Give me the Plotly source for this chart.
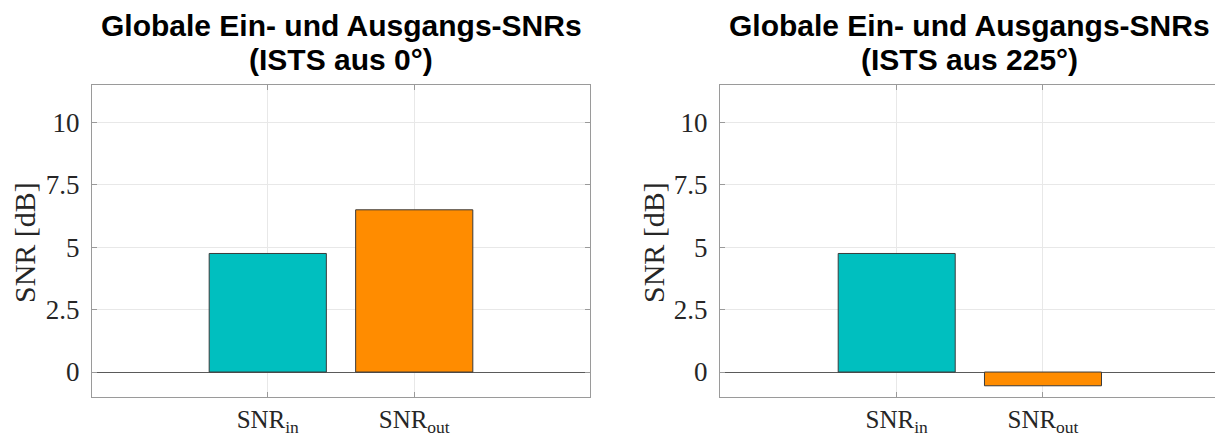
import plotly.graph_objects as go

# ---- data ----
categories = ["SNR<sub>in</sub>", "SNR<sub>out</sub>"]
snr_0deg = [4.75, 6.5]
snr_225deg = [4.75, -0.55]
bar_colors = ["#00BFBF", "#FF8C00"]
title_line1 = "Globale Ein- und Ausgangs-SNRs"
title_line2 = ["(ISTS aus 0°)", "(ISTS aus 225°)"]
ytick_vals = [0, 2.5, 5, 7.5, 10]
ytick_text = ["0", "2.5", "5", "7.5", "10"]
ylabel = "SNR [dB]"

W, H = 1215, 434
serif = "Liberation Serif, Times New Roman, serif"
sans = "Liberation Sans, Arial, sans-serif"
border = "#9a9a9a"
grid = "#e8e8e8"

fig = go.Figure()
for i, vals in enumerate([snr_0deg, snr_225deg]):
    fig.add_trace(go.Bar(
        x=categories, y=vals, width=0.8,
        marker=dict(color=bar_colors, line=dict(color="#3a3a3a", width=1)),
        xaxis="x" if i == 0 else "x2", yaxis="y" if i == 0 else "y2",
        showlegend=False, hoverinfo="skip"))

ydom = [1 - 397 / H, 1 - 85 / H]
xdoms = [[92 / W, 590 / W], [720 / W, 1.0]]
xranges = [[-1.2, 2.2], [-1.208, 2.176]]

common_x = dict(showline=True, linecolor=border, linewidth=1, mirror="ticks",
                ticks="inside", ticklen=5, tickcolor=border,
                showgrid=True, gridcolor=grid, gridwidth=1,
                tickfont=dict(family=serif, size=25, color="#262626"),
                ticklabelstandoff=0, automargin=False, fixedrange=True)
common_y = dict(showline=True, linecolor=border, linewidth=1,
                ticks="inside", ticklen=5, tickcolor=border,
                showgrid=True, gridcolor=grid, gridwidth=1,
                zeroline=True, zerolinecolor="#5a5a5a", zerolinewidth=1,
                range=[-1, 11.5], tickvals=ytick_vals, ticktext=ytick_text,
                tickfont=dict(family=serif, size=27, color="#262626"),
                ticklabelstandoff=6, domain=ydom, automargin=False, fixedrange=True)

fig.update_layout(
    width=W, height=H, margin=dict(l=0, r=0, t=0, b=0, autoexpand=False),
    paper_bgcolor="white", plot_bgcolor="white", bargap=0.2,
    xaxis=dict(domain=xdoms[0], range=xranges[0], anchor="y", **common_x),
    xaxis2=dict(domain=xdoms[1], range=xranges[1], anchor="y2", **common_x),
    yaxis=dict(anchor="x", mirror="ticks", **common_y),
    yaxis2=dict(anchor="x2", mirror=False, **common_y),
)

annotations = []
for i in range(2):
    cx = (xdoms[i][0] + xdoms[i][1]) / 2
    if i == 1:
        cx = (720 + 1219) / 2 / W
    annotations.append(dict(text="<b>%s</b>" % title_line1, x=cx, y=1 - 25 / H,
                            xref="paper", yref="paper", xanchor="center", yanchor="middle",
                            showarrow=False, font=dict(family=sans, size=30, color="black")))
    annotations.append(dict(text="<b>%s</b>" % title_line2[i], x=cx, y=1 - 59 / H,
                            xref="paper", yref="paper", xanchor="center", yanchor="middle",
                            showarrow=False, font=dict(family=sans, size=30, color="black")))
    lx = (25 if i == 0 else 654) / W
    annotations.append(dict(text=ylabel, x=lx, y=1 - 243 / H, textangle=-90,
                            xref="paper", yref="paper", xanchor="center", yanchor="middle",
                            showarrow=False, font=dict(family=serif, size=30, color="#262626")))
fig.update_layout(annotations=annotations)

fig.write_html("out.html", config={"displayModeBar": False},
               post_script="document.body.style.margin='0';document.body.style.overflow='hidden';")
